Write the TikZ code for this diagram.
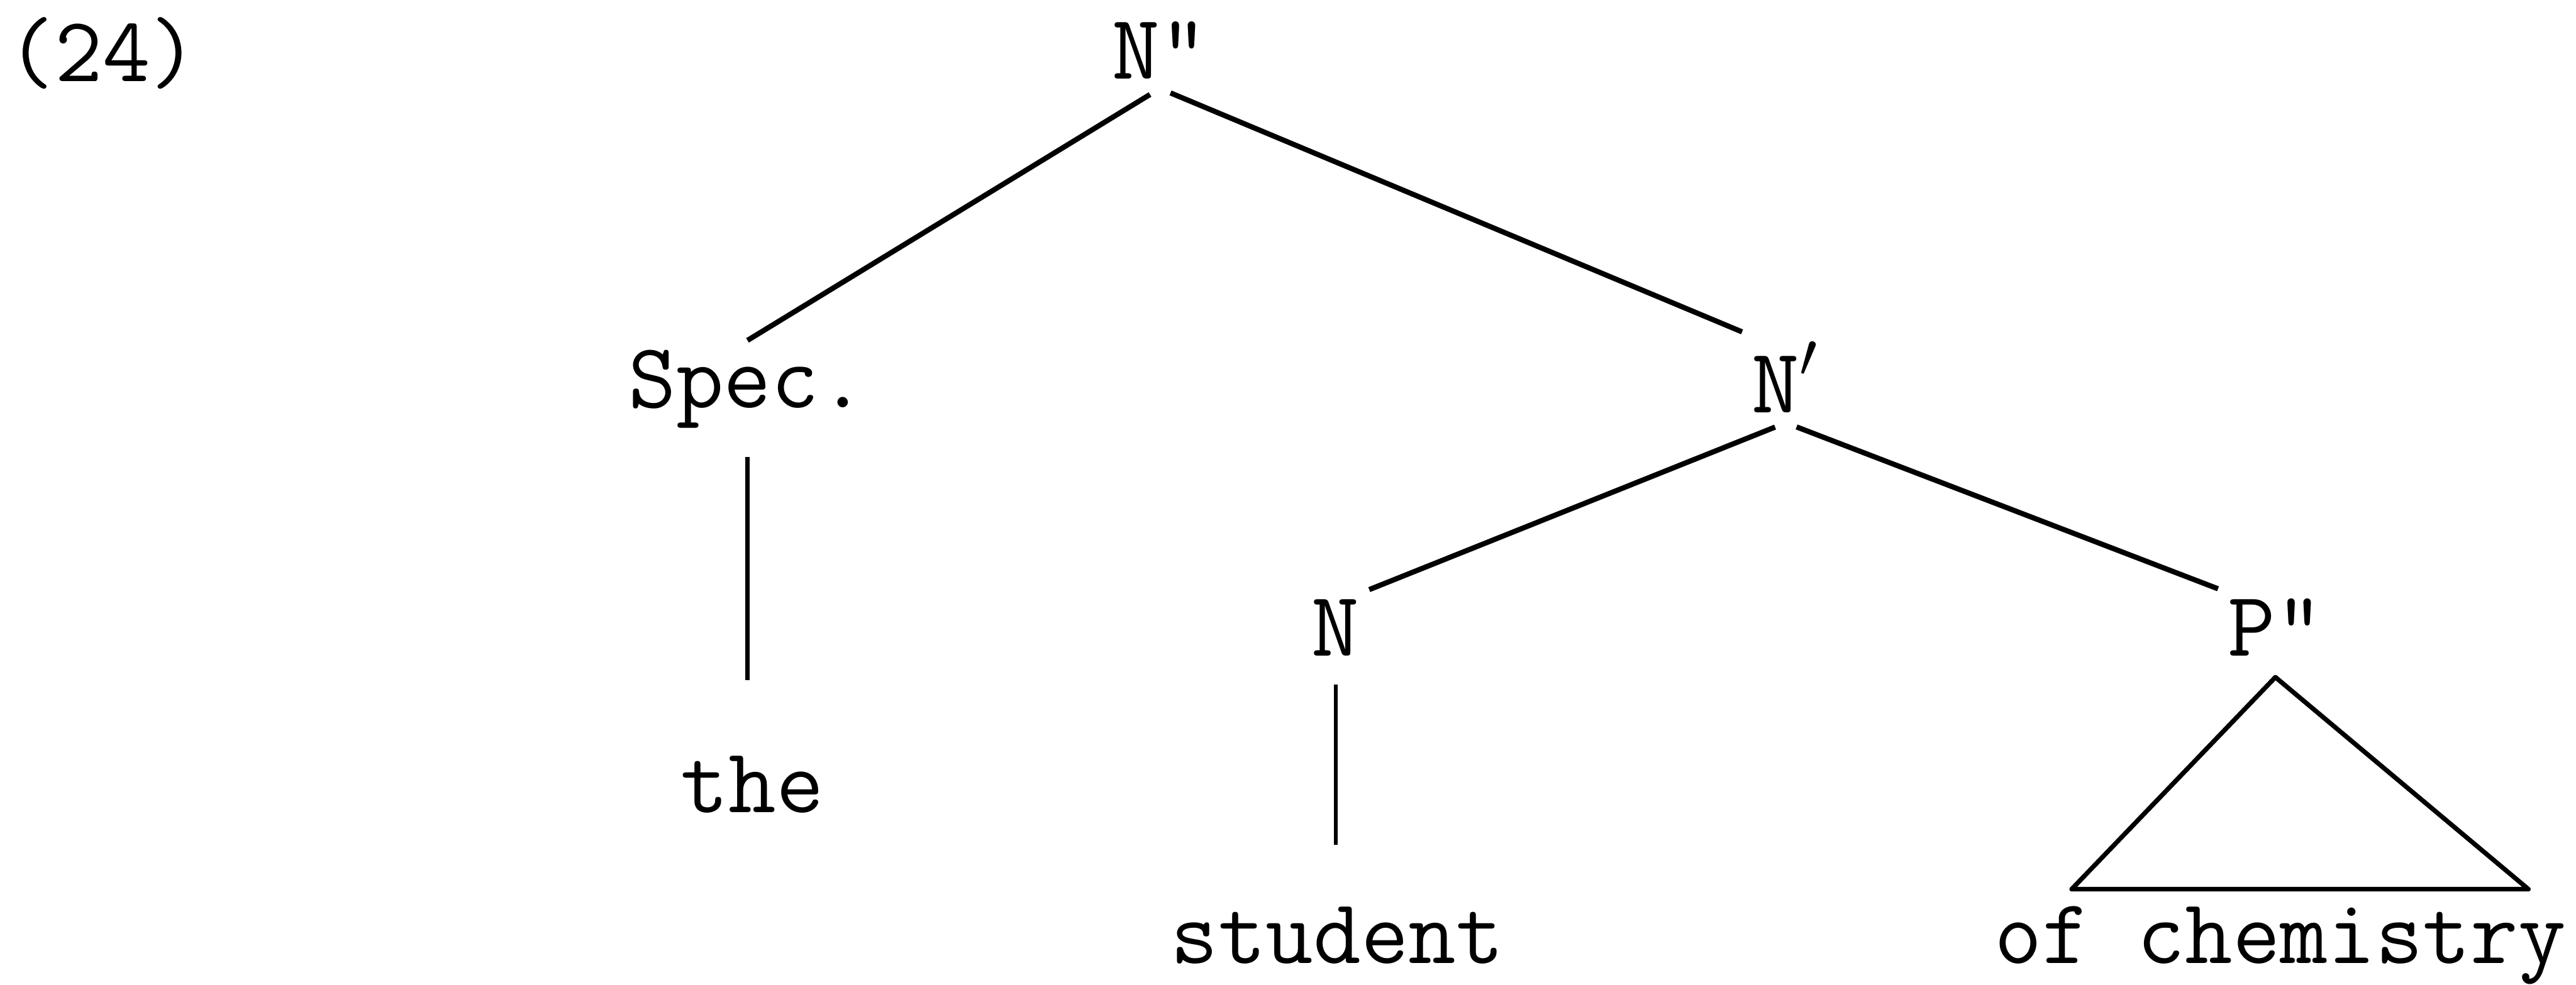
\documentclass[tikz,border=0pt]{standalone}

\begin{document}
\begin{tikzpicture}[every node/.style={font=\fontsize{16pt}{19pt}\selectfont\ttfamily, inner sep=1.5pt},
    branch/.style={line width=0.9pt, shorten <=2pt},
    stem/.style={line width=0.7pt, shorten <=3.3pt, shorten >=9pt},
    roof/.style={line width=0.8pt, line join=round}]

    \useasboundingbox (0,0) rectangle (15.68,5.995);

    % example number
    \node[anchor=base] (num) at (0.625,5.501) {(24)};

    % N''
    \node[anchor=base] (np) at (7.06,5.516) {N"};

    % Spec. and N'
    \node[anchor=base] (spec) at (4.55,3.512) {Spec.};
    \node[anchor=base] (nbar) at (10.87,3.48) {N$'$};
    \draw[branch] (np.south) -- (spec.north);
    \draw[branch] (np.south) -- (nbar.north west);

    % the
    \node[anchor=base] (the) at (4.58,1.046) {the};
    \draw[stem, shorten >=11.5pt] (spec.south) -- (spec.south |- the.north);

    % N and P''
    \node[anchor=base] (n) at (8.13,2.001) {N};
    \node[anchor=base] (pp) at (13.85,2.001) {P"};
    \draw[branch] (nbar.south) -- (n.north east);
    \draw[branch] (nbar.south) -- (pp.north west);

    % student
    \node[anchor=base] (student) at (8.14,0.13) {student};
    \draw[stem] (n.south) -- (n.south |- student.north);

    % of chemistry
    \node[anchor=base] (chem) at (13.88,0.13) {of chemistry};
    \coordinate (roofl) at (12.61,0.58);
    \coordinate (roofr) at (15.39,0.58);
    \draw[roof] ([yshift=-2pt]pp.south) -- (roofl) -- (roofr) -- cycle;

\end{tikzpicture}
\end{document}
